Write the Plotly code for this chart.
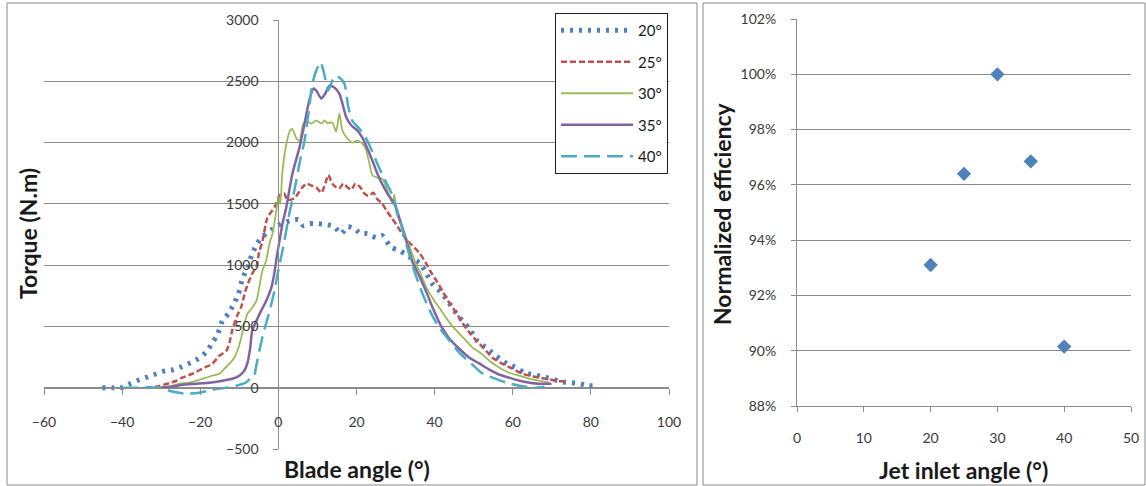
import plotly.graph_objects as go

# ---- Torque vs blade angle, one series per jet inlet angle ----
x20 = [-45.1, -42.5, -40.2, -37.9, -35.6, -33.3, -31.2, -28.9, -26.9, -24.8, -22.5, -20.5, -18.4, -16.9,
       -15.6, -14.3, -12.8, -11.5, -10.2, -9.2, -7.9, -6.7, -5.4, -4.2, -3.1, -1.3, 0.8, 3.1, 5.1, 6.4,
       7.9, 10.0, 12.3, 14.3, 16.1, 17.7, 19.5, 21.0, 22.8, 25.1, 26.6, 28.9, 30.5, 32.3, 34.3, 36.4,
       37.9, 39.4, 41.7, 43.3, 45.6, 47.1, 48.9, 50.9, 53.5, 56.6, 58.6, 60.9, 63.0, 65.5, 67.6, 69.9,
       72.5, 75.0, 77.1, 79.4, 81.7]
t20 = [0, 0, 0, 33, 65, 90, 114, 139, 147, 171, 204, 237, 294, 367,
       433, 547, 604, 678, 767, 890, 980, 1094, 1176, 1230, 1257, 1298, 1339, 1363, 1371, 1322,
       1339, 1339, 1331, 1314, 1257, 1314, 1298, 1257, 1257, 1224, 1241, 1143, 1126, 1094, 1053, 1012,
       931, 849, 776, 710, 604, 547, 482, 384, 318, 237, 196, 163, 122, 106, 90, 73,
       49, 41, 33, 16, 16]

x25 = [-34.0, -31.0, -28.7, -26.1, -24.6, -22.0, -19.5, -16.9, -15.1, -13.3, -12.5, -11.8, -10.5, -9.5,
       -8.7, -7.9, -6.7, -5.6, -4.9, -4.1, -2.8, -1.0, 0.3, 1.5, 2.3, 4.1, 5.9, 7.2, 8.4, 9.7, 11.0,
       12.0, 12.8, 13.8, 14.8, 15.6, 16.6, 17.7, 18.7, 19.7, 21.0, 22.0, 23.0, 24.3, 25.3, 26.6, 27.6,
       28.9, 30.2, 31.5, 33.0, 34.3, 36.1, 37.9, 39.2, 40.7, 42.0, 43.8, 45.6, 47.1, 48.9, 50.7, 52.7,
       54.8, 57.3, 59.9, 62.5, 65.5, 68.6, 71.2, 73.7]
t25 = [0, 10, 30, 57, 82, 114, 155, 196, 261, 302, 370, 470, 590, 660,
       760, 840, 930, 990, 1110, 1190, 1390, 1470, 1570, 1585, 1530, 1545, 1625, 1665, 1650, 1635, 1590,
       1665, 1735, 1665, 1635, 1625, 1665, 1635, 1615, 1665, 1635, 1585, 1565, 1590, 1540, 1500, 1450,
       1390, 1330, 1265, 1200, 1160, 1100, 1010, 935, 860, 790, 690, 610, 530, 450, 385, 318,
       245, 196, 155, 114, 90, 73, 57, 49]

x30 = [-31.0, -28.0, -25.3, -22.8, -20.2, -18.4, -16.9, -15.1, -13.8, -12.5, -11.3, -10.5, -9.5, -8.7,
       -7.9, -6.7, -5.6, -4.9, -4.1, -3.1, -2.3, -1.5, -0.5, 0.0, 0.5, 1.0, 2.0, 3.0, 3.6, 4.5, 5.4,
       6.4, 7.5, 8.4, 9.7, 11.0, 11.8, 12.5, 13.8, 14.8, 15.6, 16.4, 17.7, 18.9, 20.2, 21.5, 22.5,
       23.3, 24.1, 25.3, 26.6, 27.9, 29.2, 29.7, 30.3, 31.5, 33.0, 34.3, 35.3, 36.1, 37.9, 39.9, 41.7,
       43.8, 45.6, 47.6, 49.7, 52.0, 54.0, 56.6, 59.1, 61.7, 64.3, 66.8, 69.4]
t30 = [0, 10, 33, 41, 65, 82, 98, 114, 155, 196, 245, 302, 408, 522,
       604, 653, 710, 816, 955, 1037, 1175, 1257, 1450, 1560, 1500, 1750, 1980, 2100, 2110, 2040, 2016,
       2155, 2170, 2155, 2180, 2155, 2180, 2160, 2163, 2090, 2237, 2098, 2033, 2000, 2016, 1992, 1935,
       1829, 1731, 1714, 1706, 1610, 1500, 1575, 1420, 1330, 1200, 1090, 1000, 955, 816, 710, 629,
       531, 465, 400, 327, 278, 220, 163, 122, 98, 73, 57, 41]

x35 = [-30.0, -27.0, -24.6, -21.0, -17.7, -14.3, -11.8, -10.0, -8.7, -7.9, -7.2, -6.7, -5.6, -4.4,
       -3.1, -1.8, -1.0, -0.3, 0.3, 1.0, 2.0, 3.6, 5.4, 6.7, 7.9, 9.0, 9.7, 11.0, 12.0, 13.1, 14.3,
       15.6, 16.4, 17.4, 18.7, 20.0, 21.5, 22.8, 24.1, 25.3, 26.6, 28.0, 29.7, 31.5, 33.0, 34.3, 36.1,
       37.9, 39.4, 41.7, 43.8, 46.3, 48.9, 51.5, 54.0, 56.6, 59.1, 61.7, 64.3, 66.8, 69.9]
t35 = [0, 10, 25, 33, 41, 57, 73, 98, 139, 204, 327, 465, 547, 629,
       710, 816, 940, 1090, 1200, 1330, 1469, 1747, 1959, 2155, 2343, 2441, 2424, 2359, 2400, 2465, 2449,
       2400, 2318, 2204, 2139, 2105, 2041, 1950, 1850, 1750, 1660, 1580, 1500, 1330, 1170, 1030, 910,
       780, 660, 500, 400, 318, 245, 196, 147, 106, 82, 57, 41, 33, 33]

x40 = [-40.0, -35.0, -30.0, -27.9, -23.6, -20.2, -16.9, -13.3, -10.8, -8.2, -7.0, -6.2, -5.6, -4.9,
       -4.1, -3.1, -2.3, -1.0, 0.3, 1.0, 2.0, 2.8, 4.1, 5.4, 6.7, 7.9, 8.7, 9.7, 10.8, 11.5, 12.3,
       12.8, 13.8, 14.6, 15.6, 16.9, 17.9, 18.9, 20.7, 22.0, 23.3, 24.5, 26.0, 27.5, 29.2, 31.0, 32.5,
       34.3, 36.9, 39.4, 41.2, 43.8, 46.3, 49.4, 52.0, 54.8, 58.4, 61.7, 65.5, 68.1]
t40 = [0, 0, 0, -25, -49, -41, -16, 0, 16, 45, 85, 100, 190, 300,
       410, 530, 620, 790, 1010, 1110, 1280, 1420, 1610, 1830, 2016, 2286, 2481, 2588, 2655, 2590, 2480,
       2425, 2506, 2545, 2530, 2480, 2290, 2180, 2114, 2060, 1980, 1890, 1780, 1680, 1570, 1380, 1200,
       1000, 767, 588, 490, 384, 286, 196, 122, 82, 41, 16, 0, 8]

series_names = ["20°", "25°", "30°", "35°", "40°"]

# ---- Normalized efficiency vs jet inlet angle ----
jet_angle = [20, 25, 30, 35, 40]
efficiency = [0.931, 0.964, 1.000, 0.9685, 0.9015]

W, H = 1146, 486


def px_x(p):
    return p / W


def px_y(p):
    return (H - p) / H


styles = [
    dict(color="#4F81BD", width=5, dash="3px,6px"),
    dict(color="#C0504D", width=2.5, dash="6px,3px"),
    dict(color="#9BBB59", width=1.8, dash="solid"),
    dict(color="#8064A2", width=2.5, dash="solid"),
    dict(color="#4BACC6", width=2.5, dash="16px,7px"),
]

fig = go.Figure()
for name, xs, ts, st in zip(series_names, [x20, x25, x30, x35, x40],
                            [t20, t25, t30, t35, t40], styles):
    fig.add_trace(go.Scatter(
        x=xs, y=ts, mode="lines", name=name, legendgroup=name,
        line=dict(color=st["color"], width=st["width"], dash=st["dash"],
                  shape="spline", smoothing=0.6),
        xaxis="x", yaxis="y",
    ))

fig.add_trace(go.Scatter(
    x=jet_angle, y=efficiency, mode="markers", showlegend=False,
    marker=dict(symbol="diamond", size=11, color="#4F81BD"),
    xaxis="x2", yaxis="y2",
))

grid = "#8c8c8c"
tickfont = dict(family="Lato", size=14, color="#3a3a3a")
titlefont = dict(family="Lato", size=23, color="#1a1a1a", weight="bold")

x_dom = [px_x(44), px_x(669)]
y_dom = [px_y(449), px_y(20)]
y_lo, y_hi = -500, 3000
x_lo, x_hi = -60, 100
# the horizontal axis crosses at torque 0, the vertical one at blade angle 0
xaxis_pos = y_dom[0] + (0 - y_lo) / (y_hi - y_lo) * (y_dom[1] - y_dom[0])
yaxis_pos = x_dom[0] + (0 - x_lo) / (x_hi - x_lo) * (x_dom[1] - x_dom[0])


def axis_title(text, x, y, angle=0):
    return dict(text=text, x=px_x(x), y=px_y(y), xref="paper", yref="paper",
                xanchor="center", yanchor="middle", textangle=angle,
                showarrow=False, font=titlefont)


fig.update_layout(
    width=W, height=H,
    margin=dict(l=0, r=0, t=0, b=0, autoexpand=False),
    paper_bgcolor="white", plot_bgcolor="white",
    showlegend=True,
    legend=dict(
        x=px_x(555), y=px_y(13), xanchor="left", yanchor="top",
        bgcolor="white", bordercolor="#202020", borderwidth=1,
        font=dict(family="Lato", size=15, color="#1a1a1a"),
        itemwidth=72, tracegroupgap=9,
    ),
    xaxis=dict(
        domain=x_dom, range=[x_lo, x_hi], dtick=20, tick0=0,
        anchor="free", position=xaxis_pos, automargin=False,
        showline=True, linecolor=grid, linewidth=1,
        ticks="outside", ticklen=6, tickcolor=grid,
        showgrid=False, zeroline=False,
        tickfont=tickfont, ticklabelstandoff=15,
    ),
    yaxis=dict(
        domain=y_dom, range=[y_lo, y_hi], dtick=500, tick0=0,
        anchor="free", position=yaxis_pos, automargin=False,
        showline=True, linecolor=grid, linewidth=1,
        ticks="outside", ticklen=5, tickcolor=grid,
        showgrid=True, gridcolor=grid, gridwidth=1, zeroline=False,
        tickfont=tickfont, ticklabelstandoff=12,
    ),
    xaxis2=dict(
        domain=[px_x(797), px_x(1131)], range=[0, 50], dtick=10,
        anchor="y2", automargin=False, showline=True, linecolor=grid, linewidth=1,
        ticks="outside", ticklen=5, tickcolor=grid,
        showgrid=False, zeroline=False,
        tickfont=tickfont, ticklabelstandoff=14,
    ),
    yaxis2=dict(
        domain=[px_y(406), px_y(19)], range=[0.88, 1.02], dtick=0.02, tick0=0.88,
        tickformat=".0%", anchor="x2", automargin=False,
        showline=True, linecolor=grid, linewidth=1,
        ticks="outside", ticklen=5, tickcolor=grid,
        showgrid=True, gridcolor=grid, gridwidth=1, zeroline=False,
        tickfont=tickfont, ticklabelstandoff=12,
    ),
    shapes=[
        dict(type="rect", xref="paper", yref="paper",
             x0=px_x(7), x1=px_x(697), y0=px_y(485), y1=px_y(3),
             line=dict(color="#8a8a8a", width=1), layer="below"),
        dict(type="rect", xref="paper", yref="paper",
             x0=px_x(703), x1=px_x(1145), y0=px_y(485), y1=px_y(3),
             line=dict(color="#8a8a8a", width=1), layer="below"),
    ],
    annotations=[
        axis_title("Torque (N.m)", 28, 234, -90),
        axis_title("Blade angle (°)", 357, 469),
        axis_title("Normalized efficiency", 722, 214, -90),
        axis_title("Jet inlet angle (°)", 963, 470),
    ],
)

fig.write_html("out.html")
